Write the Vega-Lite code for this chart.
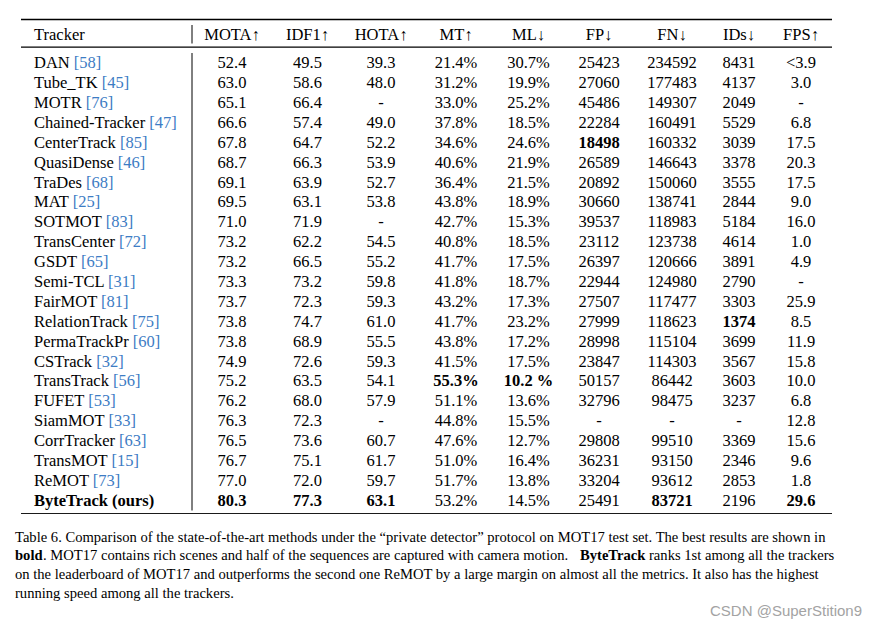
{
  "$schema": "https://vega.github.io/schema/vega-lite/v6.json",
  "width": 877,
  "height": 627,
  "autosize": {"type": "none"},
  "padding": 0,
  "background": "white",
  "config": {
    "view": {"stroke": null},
    "axis": {"disable": true},
    "text": {"font": "Liberation Serif", "fontSize": 16.5, "color": "#000000", "baseline": "alphabetic"}
  },
  "datasets": {
    "cols": [
      {"key": "Tracker", "c": 0, "head": "Tracker"},
      {"key": "MOTA", "c": 1, "head": "MOTA↑"},
      {"key": "IDF1", "c": 2, "head": "IDF1↑"},
      {"key": "HOTA", "c": 3, "head": "HOTA↑"},
      {"key": "MT", "c": 4, "head": "MT↑"},
      {"key": "ML", "c": 5, "head": "ML↓"},
      {"key": "FP", "c": 6, "head": "FP↓"},
      {"key": "FN", "c": 7, "head": "FN↓"},
      {"key": "IDs", "c": 8, "head": "IDs↓"},
      {"key": "FPS", "c": 9, "head": "FPS↑"}
    ],
    "rows": [
      {"r": 1, "name": "DAN", "label": "DAN [58]", "MOTA": "52.4", "IDF1": "49.5", "HOTA": "39.3", "MT": "21.4%", "ML": "30.7%", "FP": "25423", "FN": "234592", "IDs": "8431", "FPS": "<3.9", "b": []},
      {"r": 2, "name": "Tube_TK", "label": "Tube_TK [45]", "MOTA": "63.0", "IDF1": "58.6", "HOTA": "48.0", "MT": "31.2%", "ML": "19.9%", "FP": "27060", "FN": "177483", "IDs": "4137", "FPS": "3.0", "b": []},
      {"r": 3, "name": "MOTR", "label": "MOTR [76]", "MOTA": "65.1", "IDF1": "66.4", "HOTA": "-", "MT": "33.0%", "ML": "25.2%", "FP": "45486", "FN": "149307", "IDs": "2049", "FPS": "-", "b": []},
      {"r": 4, "name": "Chained-Tracker", "label": "Chained-Tracker [47]", "MOTA": "66.6", "IDF1": "57.4", "HOTA": "49.0", "MT": "37.8%", "ML": "18.5%", "FP": "22284", "FN": "160491", "IDs": "5529", "FPS": "6.8", "b": []},
      {"r": 5, "name": "CenterTrack", "label": "CenterTrack [85]", "MOTA": "67.8", "IDF1": "64.7", "HOTA": "52.2", "MT": "34.6%", "ML": "24.6%", "FP": "18498", "FN": "160332", "IDs": "3039", "FPS": "17.5", "b": ["FP"]},
      {"r": 6, "name": "QuasiDense", "label": "QuasiDense [46]", "MOTA": "68.7", "IDF1": "66.3", "HOTA": "53.9", "MT": "40.6%", "ML": "21.9%", "FP": "26589", "FN": "146643", "IDs": "3378", "FPS": "20.3", "b": []},
      {"r": 7, "name": "TraDes", "label": "TraDes [68]", "MOTA": "69.1", "IDF1": "63.9", "HOTA": "52.7", "MT": "36.4%", "ML": "21.5%", "FP": "20892", "FN": "150060", "IDs": "3555", "FPS": "17.5", "b": []},
      {"r": 8, "name": "MAT", "label": "MAT [25]", "MOTA": "69.5", "IDF1": "63.1", "HOTA": "53.8", "MT": "43.8%", "ML": "18.9%", "FP": "30660", "FN": "138741", "IDs": "2844", "FPS": "9.0", "b": []},
      {"r": 9, "name": "SOTMOT", "label": "SOTMOT [83]", "MOTA": "71.0", "IDF1": "71.9", "HOTA": "-", "MT": "42.7%", "ML": "15.3%", "FP": "39537", "FN": "118983", "IDs": "5184", "FPS": "16.0", "b": []},
      {"r": 10, "name": "TransCenter", "label": "TransCenter [72]", "MOTA": "73.2", "IDF1": "62.2", "HOTA": "54.5", "MT": "40.8%", "ML": "18.5%", "FP": "23112", "FN": "123738", "IDs": "4614", "FPS": "1.0", "b": []},
      {"r": 11, "name": "GSDT", "label": "GSDT [65]", "MOTA": "73.2", "IDF1": "66.5", "HOTA": "55.2", "MT": "41.7%", "ML": "17.5%", "FP": "26397", "FN": "120666", "IDs": "3891", "FPS": "4.9", "b": []},
      {"r": 12, "name": "Semi-TCL", "label": "Semi-TCL [31]", "MOTA": "73.3", "IDF1": "73.2", "HOTA": "59.8", "MT": "41.8%", "ML": "18.7%", "FP": "22944", "FN": "124980", "IDs": "2790", "FPS": "-", "b": []},
      {"r": 13, "name": "FairMOT", "label": "FairMOT [81]", "MOTA": "73.7", "IDF1": "72.3", "HOTA": "59.3", "MT": "43.2%", "ML": "17.3%", "FP": "27507", "FN": "117477", "IDs": "3303", "FPS": "25.9", "b": []},
      {"r": 14, "name": "RelationTrack", "label": "RelationTrack [75]", "MOTA": "73.8", "IDF1": "74.7", "HOTA": "61.0", "MT": "41.7%", "ML": "23.2%", "FP": "27999", "FN": "118623", "IDs": "1374", "FPS": "8.5", "b": ["IDs"]},
      {"r": 15, "name": "PermaTrackPr", "label": "PermaTrackPr [60]", "MOTA": "73.8", "IDF1": "68.9", "HOTA": "55.5", "MT": "43.8%", "ML": "17.2%", "FP": "28998", "FN": "115104", "IDs": "3699", "FPS": "11.9", "b": []},
      {"r": 16, "name": "CSTrack", "label": "CSTrack [32]", "MOTA": "74.9", "IDF1": "72.6", "HOTA": "59.3", "MT": "41.5%", "ML": "17.5%", "FP": "23847", "FN": "114303", "IDs": "3567", "FPS": "15.8", "b": []},
      {"r": 17, "name": "TransTrack", "label": "TransTrack [56]", "MOTA": "75.2", "IDF1": "63.5", "HOTA": "54.1", "MT": "55.3%", "ML": "10.2 %", "FP": "50157", "FN": "86442", "IDs": "3603", "FPS": "10.0", "b": ["MT", "ML"]},
      {"r": 18, "name": "FUFET", "label": "FUFET [53]", "MOTA": "76.2", "IDF1": "68.0", "HOTA": "57.9", "MT": "51.1%", "ML": "13.6%", "FP": "32796", "FN": "98475", "IDs": "3237", "FPS": "6.8", "b": []},
      {"r": 19, "name": "SiamMOT", "label": "SiamMOT [33]", "MOTA": "76.3", "IDF1": "72.3", "HOTA": "-", "MT": "44.8%", "ML": "15.5%", "FP": "-", "FN": "-", "IDs": "-", "FPS": "12.8", "b": []},
      {"r": 20, "name": "CorrTracker", "label": "CorrTracker [63]", "MOTA": "76.5", "IDF1": "73.6", "HOTA": "60.7", "MT": "47.6%", "ML": "12.7%", "FP": "29808", "FN": "99510", "IDs": "3369", "FPS": "15.6", "b": []},
      {"r": 21, "name": "TransMOT", "label": "TransMOT [15]", "MOTA": "76.7", "IDF1": "75.1", "HOTA": "61.7", "MT": "51.0%", "ML": "16.4%", "FP": "36231", "FN": "93150", "IDs": "2346", "FPS": "9.6", "b": []},
      {"r": 22, "name": "ReMOT", "label": "ReMOT [73]", "MOTA": "77.0", "IDF1": "72.0", "HOTA": "59.7", "MT": "51.7%", "ML": "13.8%", "FP": "33204", "FN": "93612", "IDs": "2853", "FPS": "1.8", "b": []},
      {"r": 23, "name": "ByteTrack (ours)", "label": null, "MOTA": "80.3", "IDF1": "77.3", "HOTA": "63.1", "MT": "53.2%", "ML": "14.5%", "FP": "25491", "FN": "83721", "IDs": "2196", "FPS": "29.6", "b": ["Tracker", "MOTA", "IDF1", "HOTA", "FN", "FPS"]}
    ],
    "hlines": [
      {"line": "top", "r": -1},
      {"line": "mid", "r": 0.5},
      {"line": "bottom", "r": 24}
    ],
    "vlines": [
      {"r": -0.725, "r2": 0.267},
      {"r": 0.641, "r2": 23.615}
    ],
    "caption": [
      {"line": 1, "seg": 0, "em": false, "text": "Table 6. Comparison of the state-of-the-art methods under the “private detector” protocol on MOT17 test set. The best results are shown in"},
      {"line": 2, "seg": 0, "em": true, "text": "bold"},
      {"line": 2, "seg": 1, "em": false, "text": ". MOT17 contains rich scenes and half of the sequences are captured with camera motion."},
      {"line": 2, "seg": 2, "em": true, "text": "ByteTrack"},
      {"line": 2, "seg": 3, "em": false, "text": "ranks 1st among all the trackers"},
      {"line": 3, "seg": 0, "em": false, "text": "on the leaderboard of MOT17 and outperforms the second one ReMOT by a large margin on almost all the metrics. It also has the highest"},
      {"line": 4, "seg": 0, "em": false, "text": "running speed among all the trackers."}
    ],
    "mark": [
      {"line": 5, "seg": 4, "text": "CSDN @SuperStition9"}
    ]
  },
  "resolve": {"scale": {"x": "independent", "y": "independent"}},
  "layer": [
    {
      "layer": [
        {
          "data": {"name": "hlines"},
          "mark": {"type": "rule", "color": "#000000"},
          "encoding": {
            "x": {"datum": -1, "type": "quantitative", "scale": {"type": "linear", "domain": [-1, 0, 0.5, 1, 2, 3, 4, 5, 6, 7, 8, 9, 10], "range": [21, 34, 192, 232, 307.5, 381, 456, 528.5, 599, 672, 739, 801, 832], "zero": false, "nice": false}},
            "x2": {"datum": 10},
            "y": {"field": "r", "type": "quantitative", "scale": {"type": "linear", "domain": [-1, 0, 0.5, 1, 23, 24], "range": [19.5, 39.5, 47, 68.3, 505.7, 513.5], "zero": false, "nice": false}},
            "strokeWidth": {"field": "line", "type": "nominal", "scale": {"domain": ["top", "mid", "bottom"], "range": [1.6, 0.9, 1.6]}, "legend": null}
          }
        },
        {
          "data": {"name": "vlines"},
          "mark": {"type": "rule", "color": "#000000", "strokeWidth": 1},
          "encoding": {
            "x": {"datum": 0.5, "type": "quantitative", "scale": {"type": "linear", "domain": [-1, 0, 0.5, 1, 2, 3, 4, 5, 6, 7, 8, 9, 10], "range": [21, 34, 192, 232, 307.5, 381, 456, 528.5, 599, 672, 739, 801, 832], "zero": false, "nice": false}},
            "y": {"field": "r", "type": "quantitative", "scale": {"type": "linear", "domain": [-1, 0, 0.5, 1, 23, 24], "range": [19.5, 39.5, 47, 68.3, 505.7, 513.5], "zero": false, "nice": false}},
            "y2": {"field": "r2"}
          }
        },
        {
          "data": {"name": "cols"},
          "transform": [{"filter": "datum.c > 0"}],
          "mark": {"type": "text", "align": "center"},
          "encoding": {
            "x": {"field": "c", "type": "quantitative", "scale": {"type": "linear", "domain": [-1, 0, 0.5, 1, 2, 3, 4, 5, 6, 7, 8, 9, 10], "range": [21, 34, 192, 232, 307.5, 381, 456, 528.5, 599, 672, 739, 801, 832], "zero": false, "nice": false}},
            "y": {"datum": 0, "type": "quantitative", "scale": {"type": "linear", "domain": [-1, 0, 0.5, 1, 23, 24], "range": [19.5, 39.5, 47, 68.3, 505.7, 513.5], "zero": false, "nice": false}},
            "text": {"field": "head"}
          }
        },
        {
          "data": {"name": "cols"},
          "transform": [{"filter": "datum.c == 0"}],
          "mark": {"type": "text", "align": "left"},
          "encoding": {
            "x": {"field": "c", "type": "quantitative", "scale": {"type": "linear", "domain": [-1, 0, 0.5, 1, 2, 3, 4, 5, 6, 7, 8, 9, 10], "range": [21, 34, 192, 232, 307.5, 381, 456, 528.5, 599, 672, 739, 801, 832], "zero": false, "nice": false}},
            "y": {"datum": 0, "type": "quantitative", "scale": {"type": "linear", "domain": [-1, 0, 0.5, 1, 23, 24], "range": [19.5, 39.5, 47, 68.3, 505.7, 513.5], "zero": false, "nice": false}},
            "text": {"field": "head"}
          }
        },
        {
          "data": {"name": "rows"},
          "transform": [{"filter": "isValid(datum.label)"}],
          "mark": {"type": "text", "align": "left", "color": "#3d7cc4"},
          "encoding": {
            "x": {"datum": 0, "type": "quantitative", "scale": {"type": "linear", "domain": [-1, 0, 0.5, 1, 2, 3, 4, 5, 6, 7, 8, 9, 10], "range": [21, 34, 192, 232, 307.5, 381, 456, 528.5, 599, 672, 739, 801, 832], "zero": false, "nice": false}},
            "y": {"field": "r", "type": "quantitative", "scale": {"type": "linear", "domain": [-1, 0, 0.5, 1, 23, 24], "range": [19.5, 39.5, 47, 68.3, 505.7, 513.5], "zero": false, "nice": false}},
            "text": {"field": "label"}
          }
        },
        {
          "data": {"name": "rows"},
          "transform": [{"filter": "isValid(datum.label)"}],
          "mark": {"type": "text", "align": "left", "fill": "#ffffff", "stroke": "#ffffff", "strokeWidth": 1.6},
          "encoding": {
            "x": {"datum": 0, "type": "quantitative", "scale": {"type": "linear", "domain": [-1, 0, 0.5, 1, 2, 3, 4, 5, 6, 7, 8, 9, 10], "range": [21, 34, 192, 232, 307.5, 381, 456, 528.5, 599, 672, 739, 801, 832], "zero": false, "nice": false}},
            "y": {"field": "r", "type": "quantitative", "scale": {"type": "linear", "domain": [-1, 0, 0.5, 1, 23, 24], "range": [19.5, 39.5, 47, 68.3, 505.7, 513.5], "zero": false, "nice": false}},
            "text": {"field": "name"}
          }
        },
        {
          "data": {"name": "rows"},
          "transform": [{"filter": "indexof(datum.b, 'Tracker') < 0"}],
          "mark": {"type": "text", "align": "left"},
          "encoding": {
            "x": {"datum": 0, "type": "quantitative", "scale": {"type": "linear", "domain": [-1, 0, 0.5, 1, 2, 3, 4, 5, 6, 7, 8, 9, 10], "range": [21, 34, 192, 232, 307.5, 381, 456, 528.5, 599, 672, 739, 801, 832], "zero": false, "nice": false}},
            "y": {"field": "r", "type": "quantitative", "scale": {"type": "linear", "domain": [-1, 0, 0.5, 1, 23, 24], "range": [19.5, 39.5, 47, 68.3, 505.7, 513.5], "zero": false, "nice": false}},
            "text": {"field": "name"}
          }
        },
        {
          "data": {"name": "rows"},
          "transform": [{"filter": "indexof(datum.b, 'Tracker') >= 0"}],
          "mark": {"type": "text", "align": "left", "fontWeight": "bold"},
          "encoding": {
            "x": {"datum": 0, "type": "quantitative", "scale": {"type": "linear", "domain": [-1, 0, 0.5, 1, 2, 3, 4, 5, 6, 7, 8, 9, 10], "range": [21, 34, 192, 232, 307.5, 381, 456, 528.5, 599, 672, 739, 801, 832], "zero": false, "nice": false}},
            "y": {"field": "r", "type": "quantitative", "scale": {"type": "linear", "domain": [-1, 0, 0.5, 1, 23, 24], "range": [19.5, 39.5, 47, 68.3, 505.7, 513.5], "zero": false, "nice": false}},
            "text": {"field": "name"}
          }
        },
        {
          "data": {"name": "rows"},
          "transform": [
            {"fold": ["MOTA", "IDF1", "HOTA", "MT", "ML", "FP", "FN", "IDs", "FPS"], "as": ["key", "value"]},
            {"lookup": "key", "from": {"data": {"name": "cols"}, "key": "key", "fields": ["c"]}},
            {"filter": "indexof(datum.b, datum.key) < 0"}
          ],
          "mark": {"type": "text", "align": "center"},
          "encoding": {
            "x": {"field": "c", "type": "quantitative", "scale": {"type": "linear", "domain": [-1, 0, 0.5, 1, 2, 3, 4, 5, 6, 7, 8, 9, 10], "range": [21, 34, 192, 232, 307.5, 381, 456, 528.5, 599, 672, 739, 801, 832], "zero": false, "nice": false}},
            "y": {"field": "r", "type": "quantitative", "scale": {"type": "linear", "domain": [-1, 0, 0.5, 1, 23, 24], "range": [19.5, 39.5, 47, 68.3, 505.7, 513.5], "zero": false, "nice": false}},
            "text": {"field": "value"}
          }
        },
        {
          "data": {"name": "rows"},
          "transform": [
            {"fold": ["MOTA", "IDF1", "HOTA", "MT", "ML", "FP", "FN", "IDs", "FPS"], "as": ["key", "value"]},
            {"lookup": "key", "from": {"data": {"name": "cols"}, "key": "key", "fields": ["c"]}},
            {"filter": "indexof(datum.b, datum.key) >= 0"}
          ],
          "mark": {"type": "text", "align": "center", "fontWeight": "bold"},
          "encoding": {
            "x": {"field": "c", "type": "quantitative", "scale": {"type": "linear", "domain": [-1, 0, 0.5, 1, 2, 3, 4, 5, 6, 7, 8, 9, 10], "range": [21, 34, 192, 232, 307.5, 381, 456, 528.5, 599, 672, 739, 801, 832], "zero": false, "nice": false}},
            "y": {"field": "r", "type": "quantitative", "scale": {"type": "linear", "domain": [-1, 0, 0.5, 1, 23, 24], "range": [19.5, 39.5, 47, 68.3, 505.7, 513.5], "zero": false, "nice": false}},
            "text": {"field": "value"}
          }
        }
      ]
    },
    {
      "layer": [
        {
          "data": {"name": "caption"},
          "transform": [{"filter": "!datum.em"}],
          "mark": {"type": "text", "align": "left", "fontSize": 14.6},
          "encoding": {
            "x": {"field": "seg", "type": "quantitative", "scale": {"type": "linear", "domain": [0, 1, 2, 3, 4], "range": [15, 43, 580, 649, 862], "zero": false, "nice": false}},
            "y": {"field": "line", "type": "quantitative", "scale": {"type": "linear", "domain": [1, 4, 5], "range": [541.5, 597.8, 615.7], "zero": false, "nice": false}},
            "text": {"field": "text"}
          }
        },
        {
          "data": {"name": "caption"},
          "transform": [{"filter": "datum.em"}],
          "mark": {"type": "text", "align": "left", "fontSize": 14.6, "fontWeight": "bold"},
          "encoding": {
            "x": {"field": "seg", "type": "quantitative", "scale": {"type": "linear", "domain": [0, 1, 2, 3, 4], "range": [15, 43, 580, 649, 862], "zero": false, "nice": false}},
            "y": {"field": "line", "type": "quantitative", "scale": {"type": "linear", "domain": [1, 4, 5], "range": [541.5, 597.8, 615.7], "zero": false, "nice": false}},
            "text": {"field": "text"}
          }
        },
        {
          "data": {"name": "mark"},
          "mark": {"type": "text", "align": "right", "font": "Liberation Sans", "fontSize": 15, "color": "#a3a3a3"},
          "encoding": {
            "x": {"field": "seg", "type": "quantitative", "scale": {"type": "linear", "domain": [0, 1, 2, 3, 4], "range": [15, 43, 580, 649, 862], "zero": false, "nice": false}},
            "y": {"field": "line", "type": "quantitative", "scale": {"type": "linear", "domain": [1, 4, 5], "range": [541.5, 597.8, 615.7], "zero": false, "nice": false}},
            "text": {"field": "text"}
          }
        }
      ]
    }
  ]
}
